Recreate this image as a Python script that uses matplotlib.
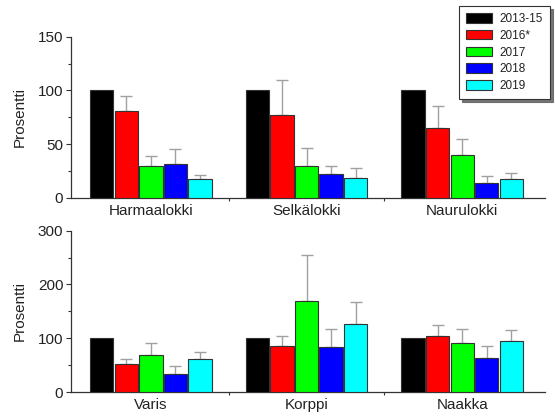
import matplotlib
matplotlib.use("Agg")
import matplotlib.pyplot as plt
import numpy as np
from matplotlib.ticker import MultipleLocator, FixedLocator

plt.rcParams['font.family'] = ['Liberation Sans', 'DejaVu Sans']

series_labels = ["2013-15", "2016*", "2017", "2018", "2019"]
series_colors = ["#000000", "#ff0000", "#00ff00", "#0000ff", "#00ffff"]

# Top panel (gulls)
top_categories = ["Harmaalokki", "Selkälokki", "Naurulokki"]
top_2013_15 = [100, 100, 100]
top_2016 = [81, 77, 65]
top_2017 = [30, 30, 40]
top_2018 = [31, 22, 14]
top_2019 = [17, 18, 17]
top_err_2016 = [14, 33, 20]
top_err_2017 = [9, 16, 15]
top_err_2018 = [14, 8, 6]
top_err_2019 = [4, 10, 6]

# Bottom panel (corvids)
bot_categories = ["Varis", "Korppi", "Naakka"]
bot_2013_15 = [100, 100, 100]
bot_2016 = [52, 85, 104]
bot_2017 = [68, 170, 92]
bot_2018 = [33, 83, 64]
bot_2019 = [61, 126, 94]
bot_err_2016 = [10, 20, 20]
bot_err_2017 = [23, 85, 25]
bot_err_2018 = [15, 35, 22]
bot_err_2019 = [13, 41, 22]

W, H = 555, 417
fig = plt.figure(figsize=(W / 100, H / 100), dpi=100)

left = 71 / W
right = 545 / W
ax_top = fig.add_axes([left, 1 - 197.7 / H, right - left, (197.7 - 36.7) / H])
ax_bot = fig.add_axes([left, 1 - 392 / H, right - left, (392 - 230.7) / H])

step = 0.158
bw = 0.150
err_color = "#a0a0a0"
edge_color = "#333333"
text_color = "#222222"


def draw_panel(ax, cats, vals, errs, ymax, ymajor, yminor):
    x = np.arange(len(cats))
    handles = []
    for i, (v, c) in enumerate(zip(vals, series_colors)):
        xi = x + (i - 2) * step
        h = ax.bar(xi, v, width=bw, color=c, edgecolor=edge_color, linewidth=0.8,
                   label=series_labels[i], zorder=3)
        handles.append(h)
        if errs[i] is not None:
            e = np.array(errs[i])
            ax.errorbar(xi, v, yerr=[np.zeros_like(e), e], fmt='none',
                        ecolor=err_color, elinewidth=1.0, capsize=4.3,
                        capthick=1.0, zorder=2)
    ax.set_xlim(-0.513, 2.532)
    ax.set_ylim(0, ymax)
    ax.set_xticks(x)
    ax.set_xticklabels(cats, fontsize=11, color=text_color)
    ax.xaxis.set_minor_locator(FixedLocator([0.5, 1.5]))
    ax.tick_params(axis='x', which='major', length=0, pad=4.5)
    ax.tick_params(axis='x', which='minor', length=2.5, width=0.8, color=edge_color, direction='out')
    ax.yaxis.set_major_locator(MultipleLocator(ymajor))
    ax.yaxis.set_minor_locator(MultipleLocator(yminor))
    ax.tick_params(axis='y', which='major', length=3.5, width=0.8, pad=2,
                   labelsize=11, color=edge_color, labelcolor=text_color)
    ax.tick_params(axis='y', which='minor', length=2.2, width=0.8, color=edge_color)
    for s in ['top', 'right']:
        ax.spines[s].set_visible(False)
    for s in ['left', 'bottom']:
        ax.spines[s].set_color(edge_color)
        ax.spines[s].set_linewidth(0.9)
    ax.set_ylabel("Prosentti", fontsize=11, color=text_color)
    ax.yaxis.set_label_coords(-0.094, 0.5)
    return handles


handles = draw_panel(
    ax_top, top_categories,
    [top_2013_15, top_2016, top_2017, top_2018, top_2019],
    [None, top_err_2016, top_err_2017, top_err_2018, top_err_2019],
    150, 50, 25)

draw_panel(
    ax_bot, bot_categories,
    [bot_2013_15, bot_2016, bot_2017, bot_2018, bot_2019],
    [None, bot_err_2016, bot_err_2017, bot_err_2018, bot_err_2019],
    300, 100, 50)

leg = fig.legend(handles, series_labels, loc='upper right',
                 bbox_to_anchor=(550 / W, 1 - 6 / H),
                 fontsize=8.5, frameon=True, fancybox=False,
                 shadow={'ox': 2, 'oy': -2, 'color': '#666666', 'alpha': 0.9},
                 handlelength=2.2, handleheight=0.85, labelspacing=0.4,
                 handletextpad=0.6, borderpad=0.6, borderaxespad=0)
leg.get_frame().set_edgecolor("#333333")
leg.get_frame().set_linewidth(0.8)
for p in leg.get_patches():
    p.set_edgecolor("#333333")
    p.set_linewidth(0.8)
for t in leg.get_texts():
    t.set_color(text_color)

fig.savefig("out.png", dpi=100)
